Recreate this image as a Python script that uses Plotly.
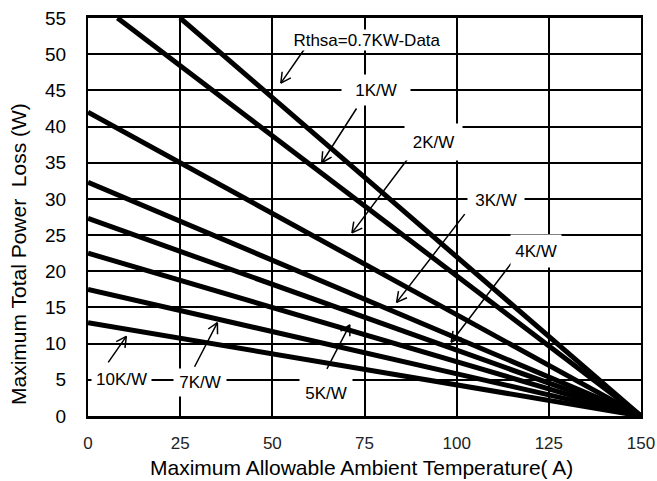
import math
import plotly.graph_objects as go

# ---- data ----
series_names = ["0.7K/W", "1K/W", "2K/W", "3K/W", "4K/W", "5K/W", "7K/W", "10K/W"]
start_x = [25, 8, 0, 0, 0, 0, 0, 0]          # ambient temperature where each line enters the plot
start_y = [55, 55, 42, 32.3, 27.3, 22.5, 17.5, 12.9]  # power loss at that point
end_x = [150] * 8
end_y = [0] * 8

x_ticks = [0, 25, 50, 75, 100, 125, 150]
y_ticks = [0, 5, 10, 15, 20, 25, 30, 35, 40, 45, 50, 55]

label_texts = ["Rthsa=0.7KW-Data", "1K/W", "2K/W", "3K/W", "4K/W", "5K/W", "7K/W", "10K/W"]
x_title = "Maximum Allowable Ambient Temperature( A)"
y_title = "Maximum Total Power  Loss (W)"

# ---- layout geometry ----
W, H = 657, 481
ML, MR, MT, MB = 88, 16, 18, 65
PW, PH = W - ML - MR, H - MT - MB
XMAX, YMAX = 150, 55
sx, sy = PW / XMAX, PH / YMAX

# label placement (data coordinates) and box sizes (pixels)
label_pos = [(75.7, 51.9), (78.1, 45.1), (93.6, 37.8), (110.7, 29.9),
             (121.5, 22.8), (64.6, 3.2), (30.4, 4.6), (8.95, 5.05)]
label_box = [(150, 20), (68, 30), (57, 36), (56, 30), (50, 32), (52, 30), (52, 27), (59, 26)]
arrow_head = [(52.3, 46.0), (63.4, 35.0), (71.6, 25.3), (83.7, 15.7),
              (98.5, 10.2), (71.0, 12.6), (35.1, 12.9), (10.4, 11.0)]
arrow_tail = [(59.1, 51.0), (73.1, 42.7), (87.1, 35.8), (102.5, 28.1),
              (116.6, 22.3), (64.6, 6.3), (28.7, 6.6), (5.2, 7.2)]

FONT = "Liberation Sans, Arial, sans-serif"

fig = go.Figure()
for name, x0, y0, x1, y1 in zip(series_names, start_x, start_y, end_x, end_y):
    fig.add_trace(go.Scatter(x=[x0, x1], y=[y0, y1], mode="lines", name=name,
                             line=dict(color="black", width=5), showlegend=False,
                             hoverinfo="skip", cliponaxis=False))

annotations = []
for (hx, hy), (tx, ty) in zip(arrow_head, arrow_tail):
    axp = (tx - hx) * sx
    ayp = -(ty - hy) * sy
    annotations.append(dict(x=hx, y=hy, xref="x", yref="y", ax=axp, ay=ayp,
                            text="", showarrow=True, arrowhead=0, arrowwidth=1.5,
                            arrowcolor="black", standoff=0, startstandoff=0))
    L = math.hypot(axp, ayp)
    ux, uy = axp / L, ayp / L
    for ang in (28, -28):
        a = math.radians(ang)
        wx = (ux * math.cos(a) - uy * math.sin(a)) * 13
        wy = (ux * math.sin(a) + uy * math.cos(a)) * 13
        annotations.append(dict(x=hx, y=hy, xref="x", yref="y", ax=wx, ay=wy,
                                text="", showarrow=True, arrowhead=0, arrowwidth=1.5,
                                arrowcolor="black", standoff=0, startstandoff=0))

for txt, (lx, ly), (bw, bh) in zip(label_texts, label_pos, label_box):
    annotations.append(dict(x=lx, y=ly, xref="x", yref="y", text=txt, showarrow=False,
                            font=dict(family=FONT, size=17, color="black"),
                            bgcolor="white", width=bw, height=bh, borderpad=0,
                            xanchor="center", yanchor="middle", align="center",
                            valign="middle"))

# axis titles placed where the reference has them (page px -> paper units)
annotations.append(dict(x=(18 - ML) / PW, y=(MT + PH - 254) / PH, xref="paper", yref="paper",
                        text=y_title, textangle=-90, showarrow=False,
                        font=dict(family=FONT, size=21, color="black"),
                        xanchor="center", yanchor="middle"))
annotations.append(dict(x=(361.5 - ML) / PW, y=(MT + PH - 467) / PH, xref="paper", yref="paper",
                        text=x_title, showarrow=False,
                        font=dict(family=FONT, size=21, color="black"),
                        xanchor="center", yanchor="middle"))

fig.update_layout(
    width=W, height=H,
    margin=dict(l=ML, r=MR, t=MT, b=MB, pad=0, autoexpand=False),
    paper_bgcolor="white", plot_bgcolor="white",
    annotations=annotations,
    font=dict(family=FONT, size=18, color="black"),
)
fig.update_xaxes(range=[0, XMAX], tickvals=x_ticks, ticktext=[str(v) for v in x_ticks],
                 showgrid=True, gridcolor="black", gridwidth=1.5, automargin=False,
                 showline=True, linecolor="black", linewidth=2.5, mirror=True,
                 ticks="", ticklabelstandoff=10, zeroline=False, ticklabeloverflow="allow",
                 tickfont=dict(family=FONT, size=17, color="#222"))
fig.update_yaxes(range=[0, YMAX], tickvals=y_ticks, ticktext=[str(v) for v in y_ticks],
                 showgrid=True, gridcolor="black", gridwidth=1.5, automargin=False,
                 showline=True, linecolor="black", linewidth=2, mirror=True,
                 ticks="", ticklabelstandoff=16, zeroline=False, ticklabeloverflow="allow",
                 tickfont=dict(family=FONT, size=19, color="black"))

fig.write_html("out.html", config={"displayModeBar": False},
               post_script="document.body.style.margin='0';document.body.style.overflow='hidden';")
